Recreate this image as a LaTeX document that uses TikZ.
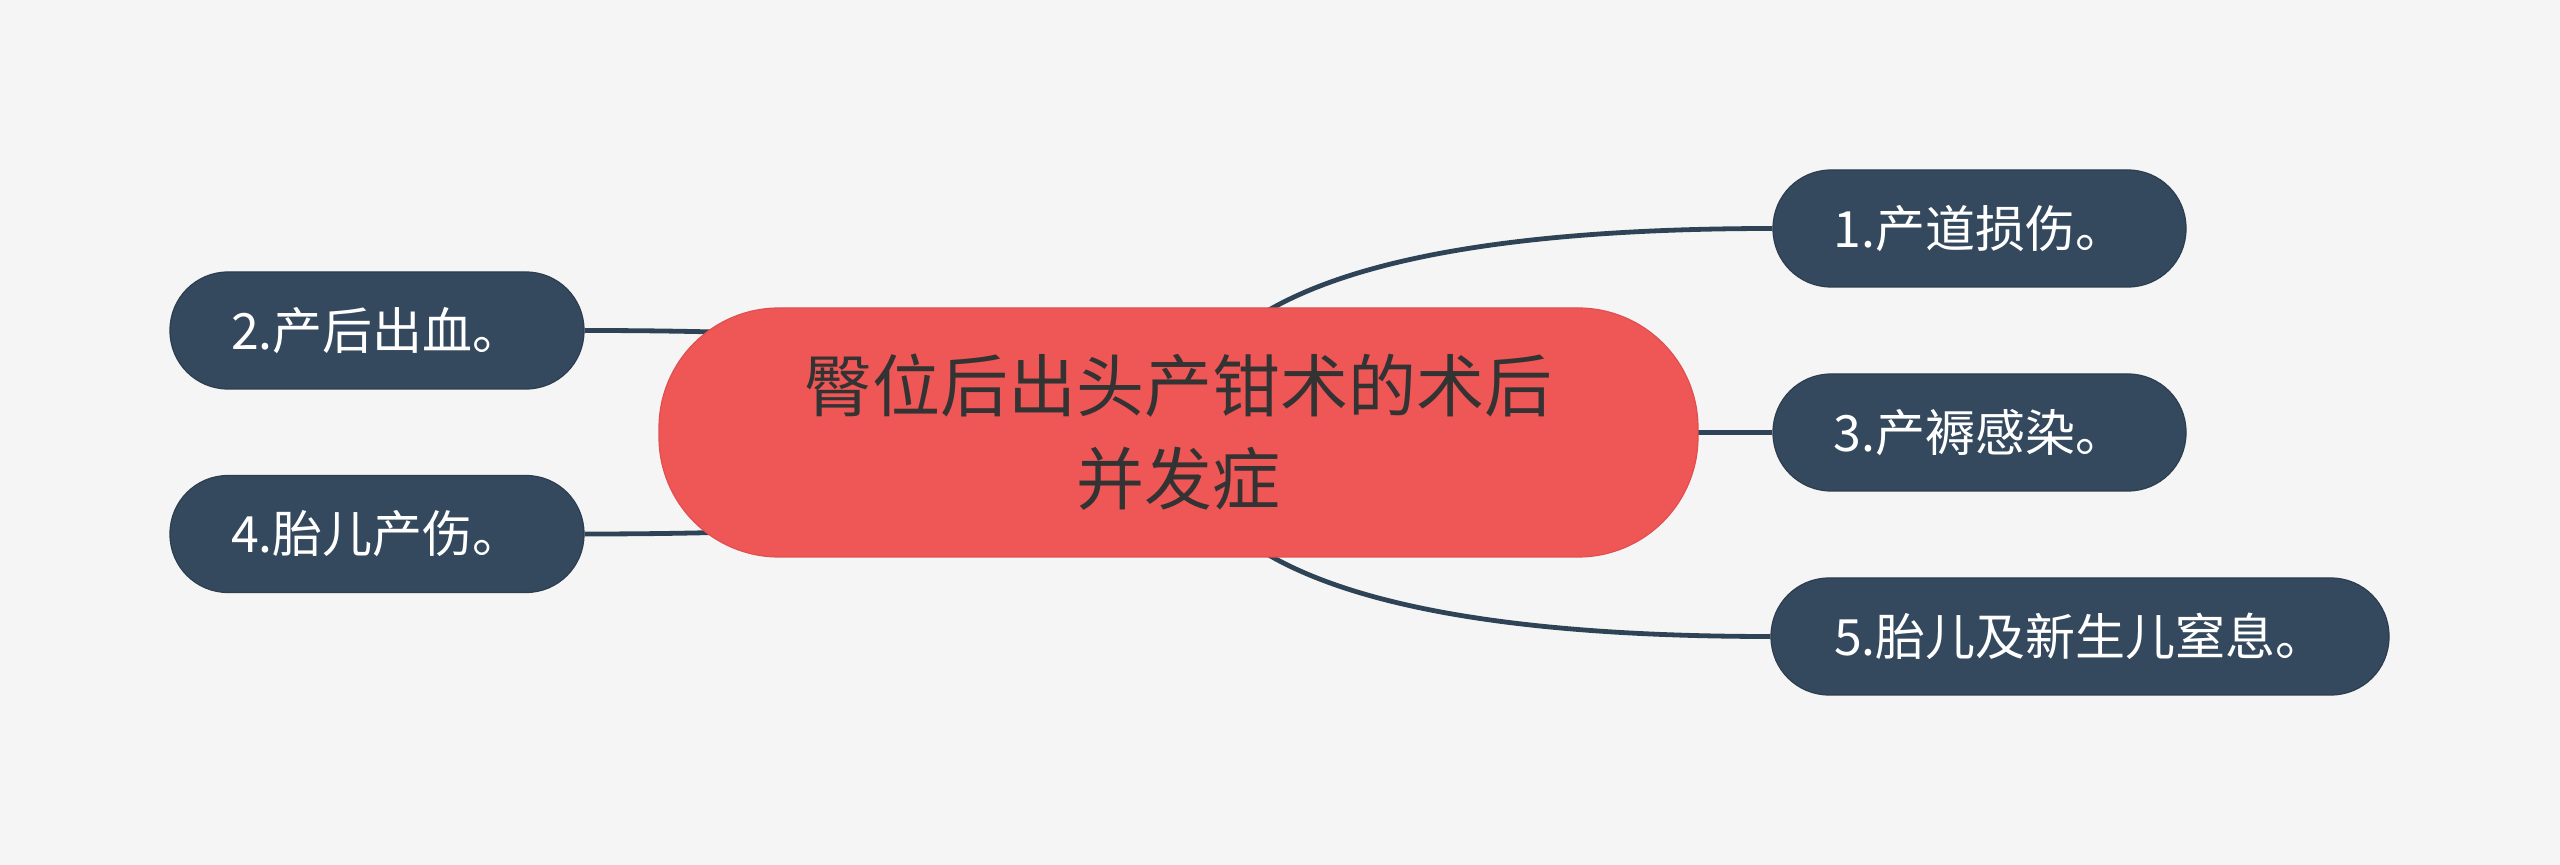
\documentclass[tikz,border=0pt]{standalone}
\usepackage{fontspec}
\setmainfont{Noto Sans CJK SC}
\usetikzlibrary{backgrounds}
\definecolor{bgc}{HTML}{F5F5F5}
\definecolor{rootfill}{HTML}{EF5656}
\definecolor{rootline}{HTML}{E05050}
\definecolor{childfill}{HTML}{34495E}
\definecolor{childline}{HTML}{2C3E50}
\definecolor{linkc}{HTML}{2F4356}
\definecolor{roottext}{HTML}{333333}
\tikzset{
  x=0.5pt, y=-0.5pt,
  rootbox/.style={draw=rootline, line width=0.6pt, fill=rootfill, rounded corners=60pt,
    minimum width=519.5pt, minimum height=124.5pt, inner sep=0pt, align=center,
    text=roottext, font=\fontsize{34pt}{46.5pt}\selectfont},
  childbox/.style={draw=childline, line width=0.6pt, fill=childfill, rounded corners=29pt,
    minimum height=58.5pt, inner sep=0pt, text=white,
    font=\fontsize{25pt}{30pt}\selectfont},
  link/.style={draw=linkc, line width=2.4pt},
}
\begin{document}
\begin{tikzpicture}
\useasboundingbox (0,0) rectangle (2560,865);
\node[rootbox] (root) at (1178.5,432.5) {臀位后出头产钳术的术后\\并发症};
\node[childbox, minimum width=206.5pt] (n1) at (1979.5,228.5) {1.产道损伤。};
\node[childbox, minimum width=206.5pt] (n3) at (1979.5,432.5) {3.产褥感染。};
\node[childbox, minimum width=309pt] (n5) at (2080,636.5) {5.胎儿及新生儿窒息。};
\node[childbox, minimum width=207pt] (n2) at (377,330.5) {2.产后出血。};
\node[childbox, minimum width=207pt] (n4) at (377,534) {4.胎儿产伤。};
\begin{pgfonlayer}{background}
\fill[bgc] (0,0) rectangle (2560,865);
\draw[link] (root.center) .. controls (1192.8,296.5) and (1391,228.5) .. (n1.west);
\draw[link] (root.center) -- (n3.west);
\draw[link] (root.center) .. controls (1192.8,568.5) and (1390.3,636.5) .. (n5.west);
\draw[link] (root.center) .. controls (1163.5,364.5) and (965.3,330.5) .. (n2.east);
\draw[link] (root.center) .. controls (1163.5,500.2) and (965.3,534) .. (n4.east);
\end{pgfonlayer}
\end{tikzpicture}
\end{document}
